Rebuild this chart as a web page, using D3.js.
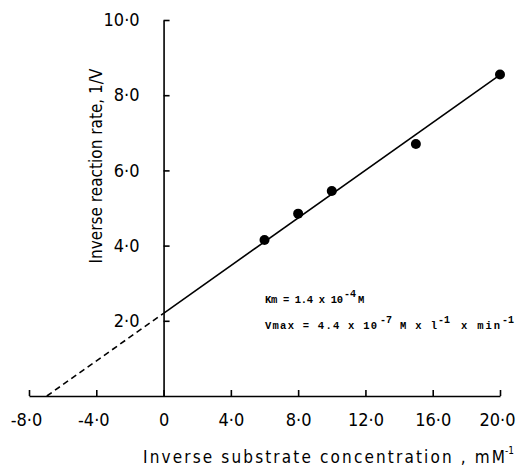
<!DOCTYPE html>
<html>
<head>
<meta charset="utf-8">
<script src="https://cdn.jsdelivr.net/npm/d3@7"></script>
<style>
  html, body { margin: 0; padding: 0; background: #fff; }
  svg { display: block; }
  .tick text { font-family: "DejaVu Sans Condensed", "DejaVu Sans", sans-serif; font-stretch: condensed; font-size: 18px; fill: #000; }
  .axis path, .axis line { stroke: #000; stroke-width: 1.6px; }
</style>
</head>
<body>
<script>
// Lineweaver–Burk plot: inverse rate vs inverse substrate concentration
const invSubstrate = [6, 8, 10, 15, 20];          // 1/[S], mM^-1
const invRate      = [4.15, 4.85, 5.45, 6.7, 8.55]; // 1/V
const xTicks = [-8, -4, 0, 4, 8, 12, 16, 20];
const yTicks = [2, 4, 6, 8, 10];
// fitted line: 1/V = intercept + slope * (1/[S])
const fitIntercept = 2.2;
const fitSlope = 0.317;
const fitXMax = 20;

const W = 517, H = 474;
const svg = d3.select("body").append("svg").attr("width", W).attr("height", H);

const x = d3.scaleLinear().domain([-8, 20]).range([29, 500]);
const y = d3.scaleLinear().domain([0, 10]).range([396, 20]);

// decimal point drawn as a raised dot, plain hyphen for negatives
const fmt = d => d === 0 ? "0" : d3.format(".1f")(d).replace(".", "·").replace("\u2212", "-");

// x axis
const gx = svg.append("g").attr("class", "axis")
  .attr("transform", `translate(0,${y(0)})`)
  .call(d3.axisBottom(x).tickValues(xTicks).tickSizeInner(-6).tickSizeOuter(0)
    .tickPadding(17).tickFormat(fmt));
gx.selectAll(".tick text")
  .attr("dy", "0.71em")
  .attr("dx", d => d < 0 ? -3 : (d === 20 ? -3 : 0));

// y axis
const gy = svg.append("g").attr("class", "axis")
  .attr("transform", `translate(${x(0)},0)`)
  .call(d3.axisLeft(y).tickValues(yTicks).tickSizeInner(-6).tickSizeOuter(0)
    .tickPadding(24).tickFormat(fmt));

// extrapolated segment to the x intercept (-1/Km)
const xIntercept = -fitIntercept / fitSlope;
const line = d3.line().x(d => x(d[0])).y(d => y(d[1]));
svg.append("path")
  .datum([[xIntercept, 0], [0, fitIntercept]])
  .attr("d", line)
  .attr("fill", "none").attr("stroke", "#000").attr("stroke-width", 1.6)
  .attr("stroke-dasharray", "6,4");

// fitted line through the data
svg.append("path")
  .datum([[0, fitIntercept], [fitXMax, fitIntercept + fitSlope * fitXMax]])
  .attr("d", line)
  .attr("fill", "none").attr("stroke", "#000").attr("stroke-width", 1.6);

// measured points
svg.selectAll("circle.pt")
  .data(invSubstrate.map((v, i) => [v, invRate[i]]))
  .join("circle")
  .attr("class", "pt")
  .attr("cx", d => x(d[0])).attr("cy", d => y(d[1]))
  .attr("r", 5).attr("fill", "#000");

// axis titles
const sans = "'DejaVu Sans Condensed', 'DejaVu Sans', sans-serif";
svg.append("text")
  .attr("transform", `translate(102,166) rotate(-90)`)
  .attr("text-anchor", "middle")
  .attr("textLength", 195).attr("lengthAdjust", "spacing")
  .style("font-family", sans).style("font-stretch", "condensed")
  .style("font-size", "17px")
  .text("Inverse reaction rate,  1/V");

svg.append("text")
  .attr("x", 143).attr("y", 463)
  .attr("textLength", 362).attr("lengthAdjust", "spacing")
  .style("font-family", sans).style("font-stretch", "condensed")
  .style("font-size", "17px")
  .text("Inverse substrate concentration , mM");
svg.append("text")
  .attr("x", 505).attr("y", 454)
  .style("font-family", sans).style("font-size", "10px")
  .text("-1");

// kinetic constants: [text, x, width (0 = natural), superscript?]
const mono = "'Liberation Mono', 'Courier New', monospace";
function annot(yPos, parts) {
  parts.forEach(([s, px, len, sup]) => {
    const t = svg.append("text")
      .attr("x", px).attr("y", sup ? yPos - 6 : yPos)
      .style("font-family", mono).style("font-weight", "bold")
      .style("font-size", sup ? "10px" : "10.5px")
      .text(s);
    if (len) t.attr("textLength", len).attr("lengthAdjust", "spacing");
  });
}
annot(303, [["Km = 1.4 x 10", 265, 78, false], ["-4", 344, 0, true], ["M", 358, 0, false]]);
annot(329, [["Vmax = 4.4 x 10", 265, 112, false], ["-7", 380, 0, true],
            ["M x l", 400, 37, false], ["-1", 438, 0, true],
            ["x min", 461, 39, false], ["-1", 502, 0, true]]);
</script>
</body>
</html>
